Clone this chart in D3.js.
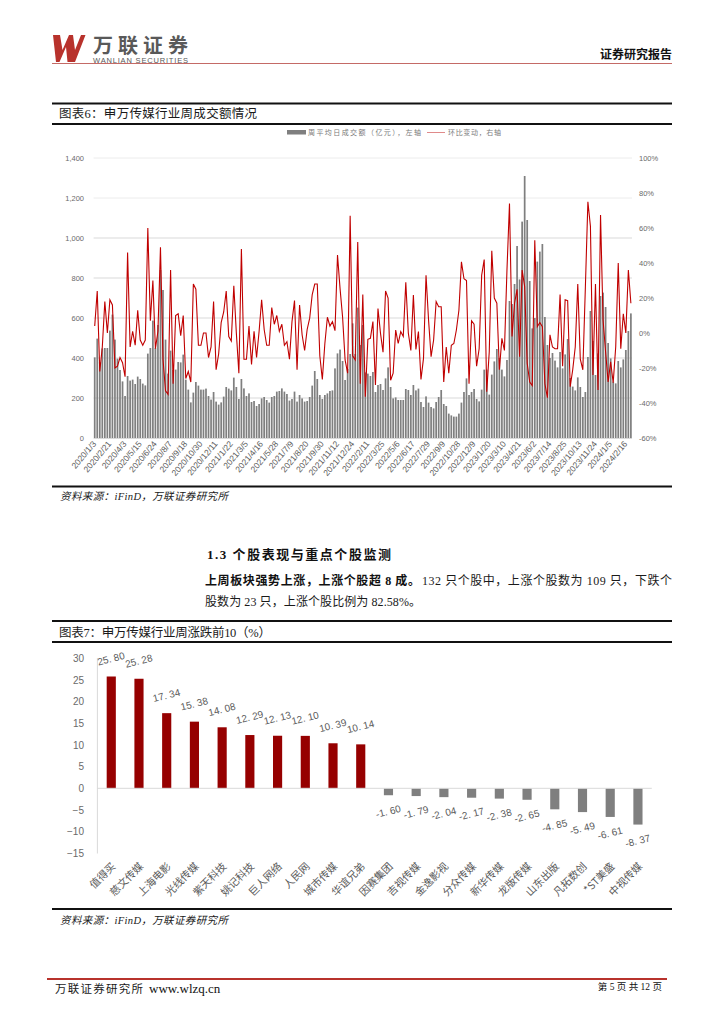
<!DOCTYPE html>
<html><head><meta charset="utf-8">
<script src="https://cdnjs.cloudflare.com/ajax/libs/d3/7.8.5/d3.min.js"></script>
<style>html,body{margin:0;padding:0;background:#fff}svg{display:block}</style></head>
<body><svg id="c" width="724" height="1024"></svg>
<script>
// ---------- Chart 1 data ----------
const volumeTickLabels=["2020/1/3","2020/2/21","2020/4/3","2020/5/15","2020/6/24","2020/8/7","2020/9/18","2020/10/30","2020/12/11","2021/1/22","2021/3/5","2021/4/16","2021/5/28","2021/7/9","2021/8/20","2021/9/30","2021/11/12","2021/12/24","2022/2/11","2022/3/25","2022/5/6","2022/6/17","2022/7/29","2022/9/9","2022/10/28","2022/12/9","2023/1/20","2023/3/10","2023/4/21","2023/6/2","2023/7/14","2023/8/25","2023/10/13","2023/11/24","2024/1/5","2024/2/16"];
const turnover=[403,497,380,448,450,450,537,617,492,397,340,283,210,310,287,292,270,307,295,272,263,422,450,587,450,565,840,740,492,322,437,340,342,380,378,417,292,242,178,227,280,262,242,242,247,210,192,230,182,167,178,207,255,247,
238,302,255,195,295,248,210,223,180,185,160,170,198,205,190,177,205,210,232,235,248,232,220,187,195,232,182,215,198,182,185,205,262,335,295,215,195,215,223,235,238,348,423,442,385,290,345,420,573,420,652,465,565,
328,322,310,330,230,265,270,240,298,353,255,198,203,190,190,190,245,240,215,265,238,247,180,155,208,177,155,148,180,205,240,170,160,122,113,107,107,122,177,230,298,215,230,245,195,183,242,342,342,217,317,383,445,400,342,308,
390,685,670,770,960,793,1082,1310,1090,785,548,600,882,932,970,605,465,400,425,387,353,430,348,418,495,300,257,238,303,255,205,230,405,635,485,315,423,710,727,655,475,398,282,273,385,353,393,440,535,623];
const changePct=[4,24,-22,-8,18,0,19,16,-20,-19,-14,-17,-25,46,-8,1,-7,13,-4,-7,-4,60,7,30,-9,1,49,-15,-33,-35,36,-29,10,11,-1.5,10,-26,-22,-28,28,25,-7,-7,0,0,-14,-8,18,-21,-12,6,12,24,-2,
-4.6,27,0,-23,48,-15,-15,4,-18,1,-14,1,19,2,-7,-7,14.5,5,10,1,5,-7,-5,-15,6.5,18.5,-21,16,-1,-10,2,8.5,22,28,28,-13,-26.5,-6,9,4,6.5,1.3,44.6,25.5,9.3,-15.4,-23,67,-13,-15.4,52,-29,22,
-36.4,-3.6,-3,6.5,-29.7,14,-0.2,-11,24,20,-27,-23,1.7,-6,0.8,-2,29,0,-10,21.7,-9.4,0.8,-26.5,-14.5,33,7.4,-13.5,-4,18,15,15,-28,-8,-23,-7,-6,1.7,13,40.7,31,30,-29,7,5,-19,-9,33,42,-33.5,-10.7,47,20,17,-21,
-3,-10,36,74,-2,17,25,-13.5,36,26.5,-17.3,-28,-30,53,3.6,6,3.6,-29,-37,-1,-8,-9,-9,22,-19,19,18.5,-30.7,-21,-8,28,-15,-21,26,75,61,-24,28,-32.6,67.4,7.4,-10.7,-28,-16.4,-28.4,-8,40,-9,11,0,36,17];
const leftTicks=[0,200,400,600,800,1000,1200,1400];
const rightTicks=[-60,-40,-20,0,20,40,60,80,100];
// ---------- Chart 2 data ----------
const stockNames=["值得买","慈文传媒","上海电影","光线传媒","紫天科技","姚记科技","巨人网络","人民网","城市传媒","华谊兄弟","因赛集团","吉视传媒","金逸影视","分众传媒","新华传媒","龙版传媒","山东出版","凡拓数创","*ST美盛","中视传媒"];
const stockChange=[25.80,25.28,17.34,15.38,14.08,12.29,12.13,12.10,10.39,10.14,-1.60,-1.79,-2.04,-2.17,-2.38,-2.65,-4.85,-5.49,-6.61,-8.37];
const stockTicks=[-15,-10,-5,0,5,10,15,20,25,30];

const CJK='"Noto Sans CJK SC","Noto Sans",sans-serif';
const SER='"Liberation Serif","Noto Sans CJK SC",serif';
const svg=d3.select("#c");
function T(x,y,s,o={}){
  const t=svg.append("text").attr("x",x).attr("y",y).text(s)
   .attr("font-family",o.ff||SER).attr("font-size",o.fs||12).attr("fill",o.fill||"#1a1a1a")
   .attr("font-weight",o.w||400).attr("text-anchor",o.a||"start");
  if(o.len)t.attr("textLength",o.len).attr("lengthAdjust","spacing");
  if(o.italic)t.attr("font-style","italic");
  return t;
}
function rule(y,x1,x2,w,c){svg.append("line").attr("x1",x1).attr("x2",x2).attr("y1",y).attr("y2",y).attr("stroke",c||"#111").attr("stroke-width",w);}

// header
svg.append("path").attr("fill","#b8322c").attr("d","M53,35H60L62.5,50L69,35H73L75,50L81,35H85.5L75,62H67.5L66,47L59.5,62H56Z");
T(93,53,"万联证券",{fs:20,w:700,fill:"#595959",len:95,ff:CJK});
T(93,62.5,"WANLIAN SECURITIES",{fs:7.5,fill:"#595959",ff:"Liberation Sans",len:95});
rule(63.5,52,672,1,"#c46a66");
T(672,59,"证券研究报告",{fs:12,w:700,a:"end",fill:"#111",ff:CJK});

// chart 1 frame
rule(103.5,52,672,2);
T(59,118,"图表6：申万传媒行业周成交额情况",{fs:12.5,len:198});
rule(124,52,672,2);
svg.append("rect").attr("x",287).attr("y",130).attr("width",19).attr("height",4.5).attr("fill","#7f7f7f");
T(308,135,"周平均日成交额（亿元），左轴",{fs:7,fill:"#7a7a7a",len:113,ff:CJK});
rule(132.5,427,445,1,"#e08a8a");
T(448,135,"环比变动，右轴",{fs:7,fill:"#7a7a7a",len:53,ff:CJK});

const xBand=d3.scaleBand().domain(d3.range(turnover.length)).range([93.6,632]).paddingInner(0.32).paddingOuter(0.1);
const yL=d3.scaleLinear().domain([0,1400]).range([438,158]);
const yR=d3.scaleLinear().domain([-60,100]).range([438,158]);
const chart1=svg.append("g");
leftTicks.filter(d=>d>0).forEach(d=>{
  chart1.append("line").attr("x1",93.6).attr("x2",632).attr("y1",yL(d)).attr("y2",yL(d))
    .attr("stroke",d>=1200?"#ececec":"#d9d9d9").attr("stroke-width",1);
});
chart1.append("g").selectAll("rect").data(turnover).join("rect")
  .attr("x",(d,i)=>xBand(i)).attr("width",xBand.bandwidth()).attr("y",d=>yL(d)).attr("height",d=>438-yL(d)).attr("fill","#7f7f7f");
chart1.append("line").attr("x1",93.6).attr("x2",632).attr("y1",438.5).attr("y2",438.5).attr("stroke","#d9d9d9");
const ln=d3.line().x((d,i)=>xBand(i)+xBand.bandwidth()/2).y(d=>yR(d));
chart1.append("path").attr("d",ln(changePct)).attr("fill","none").attr("stroke","#c00000").attr("stroke-width",1.1);
const axL=d3.axisLeft(yL).tickValues(leftTicks).tickFormat(d3.format(",")).tickSize(0).tickPadding(0);
const gL=chart1.append("g").attr("transform","translate(84,0)").call(axL);
const axR=d3.axisRight(yR).tickValues(rightTicks).tickFormat(d=>d+"%").tickSize(0).tickPadding(0);
const gR=chart1.append("g").attr("transform","translate(639,0)").call(axR);
[gL,gR].forEach(g=>{g.select(".domain").remove();g.selectAll("text").attr("font-family","Liberation Sans").attr("font-size",7.5).attr("fill","#6a6a6a");});
chart1.append("g").selectAll("text").data(volumeTickLabels).join("text")
  .text(d=>d)
  .attr("transform",(d,i)=>`translate(${xBand(i*6)+xBand.bandwidth()/2+2},444) rotate(-50)`)
  .attr("text-anchor","end").attr("font-family","Liberation Sans").attr("font-size",8.5).attr("fill","#5a5a5a");
rule(486.5,52,672,2);
T(60,500,"资料来源：iFinD，万联证券研究所",{fs:10.5,italic:true,len:168});

// text block
T(207,559,"1.3  个股表现与重点个股监测",{fs:13,w:700,fill:"#111",len:184});
T(205,585,"上周板块强势上涨，上涨个股超 8 成。",{fs:12,w:700,fill:"#111",len:215});
T(422,585,"132 只个股中，上涨个股数为 109 只，下跌个",{fs:12,len:250});
T(205,606,"股数为 23 只，上涨个股比例为 82.58%。",{fs:12,len:216});

// chart 2
rule(621,52,672,2);
T(59,637,"图表7：申万传媒行业周涨跌前10（%）",{fs:12.5,len:212});
rule(642,52,672,2);
const x2=d3.scaleBand().domain(stockNames).range([97.4,651.8]).paddingInner(0.67).paddingOuter(0.335);
const y2=d3.scaleLinear().domain([-15,30]).range([853.3,658.3]);
const chart2=svg.append("g");
chart2.append("g").selectAll("rect").data(stockNames).join("rect")
  .attr("x",d=>x2(d)).attr("width",x2.bandwidth())
  .attr("y",(d,i)=>Math.min(y2(stockChange[i]),y2(0)))
  .attr("height",(d,i)=>Math.abs(y2(stockChange[i])-y2(0)))
  .attr("fill",(d,i)=>stockChange[i]>0?"#960000":"#7f7f7f");
chart2.append("line").attr("x1",97.4).attr("x2",97.4).attr("y1",658).attr("y2",853.5).attr("stroke","#d9d9d9");
chart2.append("line").attr("x1",97.4).attr("x2",651.8).attr("y1",y2(0)).attr("y2",y2(0)).attr("stroke","#d9d9d9");
const gY2=chart2.append("g").attr("transform","translate(84,0)").call(d3.axisLeft(y2).tickValues(stockTicks).tickSize(0).tickPadding(0).tickFormat(d=>d<0?"\u2212"+(-d):d));
gY2.select(".domain").remove();
gY2.selectAll("text").attr("font-family","Liberation Sans").attr("font-size",10).attr("fill","#6a6a6a");
chart2.append("g").selectAll("text").data(stockChange).join("text")
  .text(d=>d.toFixed(2).replace(".",". "))
  .attr("transform",(d,i)=>`translate(${x2(stockNames[i])+x2.bandwidth()/2},${y2(d)+(d>0?-17:17)}) rotate(-14)`)
  .attr("text-anchor","middle").attr("dominant-baseline","middle")
  .attr("font-family","Liberation Sans").attr("font-size",10).attr("fill","#5a5a5a");
chart2.append("g").selectAll("text").data(stockNames).join("text")
  .text(d=>d)
  .attr("transform",d=>`translate(${x2(d)+x2.bandwidth()/2+5},867) rotate(-45)`)
  .attr("text-anchor","end").attr("font-size",10.5).attr("font-family",CJK).attr("fill","#5a5a5a");
rule(909,52,672,2);
T(60,924,"资料来源：iFinD，万联证券研究所",{fs:10.5,italic:true,len:168});

// footer
rule(979,47,667,2,"#b8322c");
T(55,993,"万联证券研究所",{fs:11.5,len:88});
T(149,993,"www.wlzq.cn",{fs:13,ff:"Liberation Serif",fill:"#111"});
T(662,990,"第 5 页 共 12 页",{fs:9.5,a:"end",fill:"#111"});
</script></body></html>
